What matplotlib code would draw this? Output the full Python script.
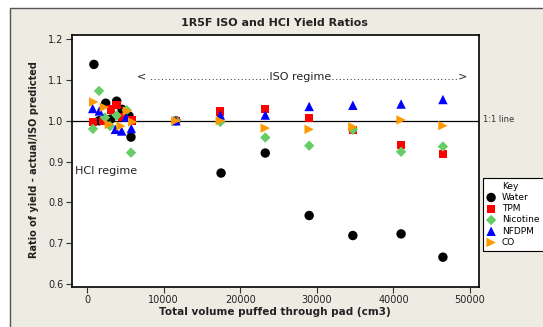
import matplotlib
matplotlib.use("Agg")
import matplotlib.pyplot as plt
from matplotlib.lines import Line2D
from matplotlib.patches import Rectangle

plt.rcParams["font.family"] = ["DejaVu Sans"]

# puffed volume (cm3) and yield ratios for each analyte
water_x = [900, 1570, 2440, 3090, 3870, 4570, 5480, 5740, 11600, 17500, 23270, 29000, 34700, 41000, 46460]
water_y = [1.138, 1.000, 1.043, 1.004, 1.048, 1.028, 1.012, 0.960, 1.000, 0.872, 0.921, 0.768, 0.719, 0.723, 0.666]

tpm_x = [820, 2130, 3130, 3830, 4650, 5910, 11600, 17400, 23270, 29000, 34700, 41000, 46460]
tpm_y = [0.997, 0.999, 1.028, 1.039, 1.009, 1.001, 1.000, 1.023, 1.029, 1.007, 0.977, 0.941, 0.918]

nic_x = [780, 1570, 2350, 3000, 3870, 5180, 5740, 11600, 17400, 23270, 29000, 34700, 41000, 46460]
nic_y = [0.980, 1.073, 1.008, 0.987, 1.013, 1.026, 0.922, 1.000, 0.997, 0.959, 0.939, 0.978, 0.924, 0.937]

nfdpm_x = [740, 1600, 3700, 4520, 5130, 5780, 11600, 17400, 23270, 29000, 34700, 41000, 46460]
nfdpm_y = [1.030, 1.024, 0.979, 0.975, 1.009, 0.981, 1.000, 1.014, 1.014, 1.035, 1.038, 1.041, 1.052]

co_x = [870, 2260, 2910, 4440, 5260, 5960, 11600, 17400, 23270, 29000, 34700, 41000, 46460]
co_y = [1.046, 1.033, 0.991, 0.987, 1.024, 0.997, 1.000, 1.000, 0.982, 0.979, 0.985, 1.002, 0.988]

yticks = [0.6, 0.7, 0.8, 0.9, 1.0, 1.1, 1.2]
xticks = [0, 10000, 20000, 30000, 40000, 50000]

W, H = 543, 327
fig = plt.figure(figsize=(W / 100, H / 100), dpi=100, facecolor="white")

# beige panel; only its top and left border fall inside the figure
panel = Rectangle((10 / W, -0.2), 1.2, 1.2 - 8 / H, transform=fig.transFigure,
                  facecolor="#eeebe2", edgecolor="#555555", linewidth=1.0, zorder=-10)
fig.patches.append(panel)

ax = fig.add_axes([72 / W, 1 - 287 / H, (479 - 72) / W, (287 - 35) / H])
ax.set_facecolor("white")

series = [
    ("Water", water_x, water_y, "o", "black", 46),
    ("TPM", tpm_x, tpm_y, "s", "#ff0000", 36),
    ("Nicotine", nic_x, nic_y, "D", "#66cc66", 28),
    ("NFDPM", nfdpm_x, nfdpm_y, "^", "#0000ff", 46),
    ("CO", co_x, co_y, ">", "#ff9900", 46),
]
for name, xs, ys, mk, col, size in series:
    ax.scatter(xs, ys, marker=mk, s=size, color=col, edgecolors="none", zorder=3, label=name)

ax.axhline(1.0, color="black", linewidth=0.9, zorder=2)

ax.set_xlim(-1960, 51170)
ax.set_ylim(0.593, 1.21)
ax.set_xticks(xticks)
ax.set_xticklabels([str(v) for v in xticks])
ax.set_yticks(yticks)
ax.set_yticklabels([f"{v:.1f}" for v in yticks])
ax.tick_params(direction="out", length=4, width=0.8, colors="#333333",
               labelsize=7, labelcolor="#222222", pad=2)
for sp in ax.spines.values():
    sp.set_color("black")
    sp.set_linewidth(1.2)

fig.text(302 / W, 1 - 77 / H, "< " + "." * 33 + "ISO regime" + "." * 35 + ">",
         ha="center", va="center", fontsize=8, color="#222222")
fig.text(75 / W, 1 - 171 / H, "HCI regime", ha="left", va="center", fontsize=8, color="#222222")
fig.text(483 / W, 1 - 120 / H, "1:1 line", ha="left", va="center", fontsize=6, color="#333333")

fig.text(274 / W, 1 - 22.5 / H, "1R5F ISO and HCI Yield Ratios", ha="center", va="center",
         fontsize=8, fontweight="bold", color="#222222")
fig.text(275 / W, 1 - 312 / H, "Total volume puffed through pad (cm3)", ha="center", va="center",
         fontsize=7.5, fontweight="bold", color="#222222")
fig.text(34 / W, 1 - 160 / H, "Ratio of yield - actual/ISO predicted", ha="center", va="center",
         rotation=90, fontsize=7, fontweight="bold", color="#222222")

# legend with a "Key" heading row; box runs past the right edge
handles, labels = ax.get_legend_handles_labels()
handles = [Line2D([], [], linestyle="none")] + handles
labels = ["Key"] + labels
leg = fig.legend(handles, labels, loc="upper left",
                 bbox_to_anchor=(483 / W, 1 - 252 / H, 75 / W, 74 / H), mode="expand",
                 fontsize=6.5, frameon=True, fancybox=False, framealpha=1,
                 edgecolor="black", labelspacing=0.25, handlelength=1.0,
                 handletextpad=0.7, borderpad=0.4, borderaxespad=0)
leg.get_frame().set_linewidth(0.8)

fig.savefig("out.png", dpi=100, facecolor=fig.get_facecolor())
